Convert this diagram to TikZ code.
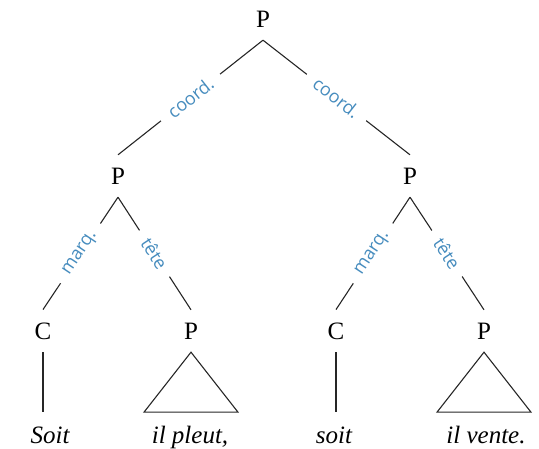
\documentclass[tikz,border=0pt]{standalone}
\usepackage{fontspec}
\setmainfont{Liberation Serif}
\newfontfamily\lblfont{Open Sans}
\definecolor{lblblue}{RGB}{70,140,190}
\begin{document}
\begin{tikzpicture}[x=1pt,y=-1pt,
  cat/.style={font=\fontsize{25}{30}\selectfont, inner sep=0pt, outer ysep=13pt},
  word/.style={font=\fontsize{25}{30}\selectfont\itshape, inner sep=0pt, outer ysep=14pt, anchor=base},
  lbl/.style={font=\lblfont\fontsize{18}{21}\selectfont, text=lblblue, fill=white, sloped, midway, inner xsep=11pt, inner ysep=1pt},
  edge/.style={line width=1.1pt, draw=black!85}]
\useasboundingbox (0,0) rectangle (539,449);
\node[cat] (t) at (263,19) {P};
\node[cat] (l) at (118,176) {P};
\node[cat] (r) at (410,176) {P};
\node[cat] (c1) at (43,331) {C};
\node[cat] (p1) at (191,331) {P};
\node[cat] (c2) at (336,331) {C};
\node[cat] (p2) at (484,331) {P};
\node[word] (w1) at (50,443) {Soit};
\node[word] (w2) at (190,443) {il pleut,};
\node[word] (w3) at (334,443) {soit};
\node[word] (w4) at (486,443) {il vente.};
\draw[edge] (t.south) -- node[lbl] {coord.} (l.north);
\draw[edge] (t.south) -- node[lbl] {coord.} (r.north);
\draw[edge] (l.south) -- node[lbl] {marq.} (c1.north);
\draw[edge] (l.south) -- node[lbl] {tête} (p1.north);
\draw[edge] (r.south) -- node[lbl] {marq.} (c2.north);
\draw[edge] (r.south) -- node[lbl] {tête} (p2.north);
\draw[edge] (c1.south) -- (c1.south |- w1.north);
\draw[edge] (c2.south) -- (c2.south |- w3.north);
\draw[edge] (p1.south) -- ++(-47,60) -- ++(94,0) -- cycle;
\draw[edge] (p2.south) -- ++(-47,60) -- ++(94,0) -- cycle;
\end{tikzpicture}
\end{document}
